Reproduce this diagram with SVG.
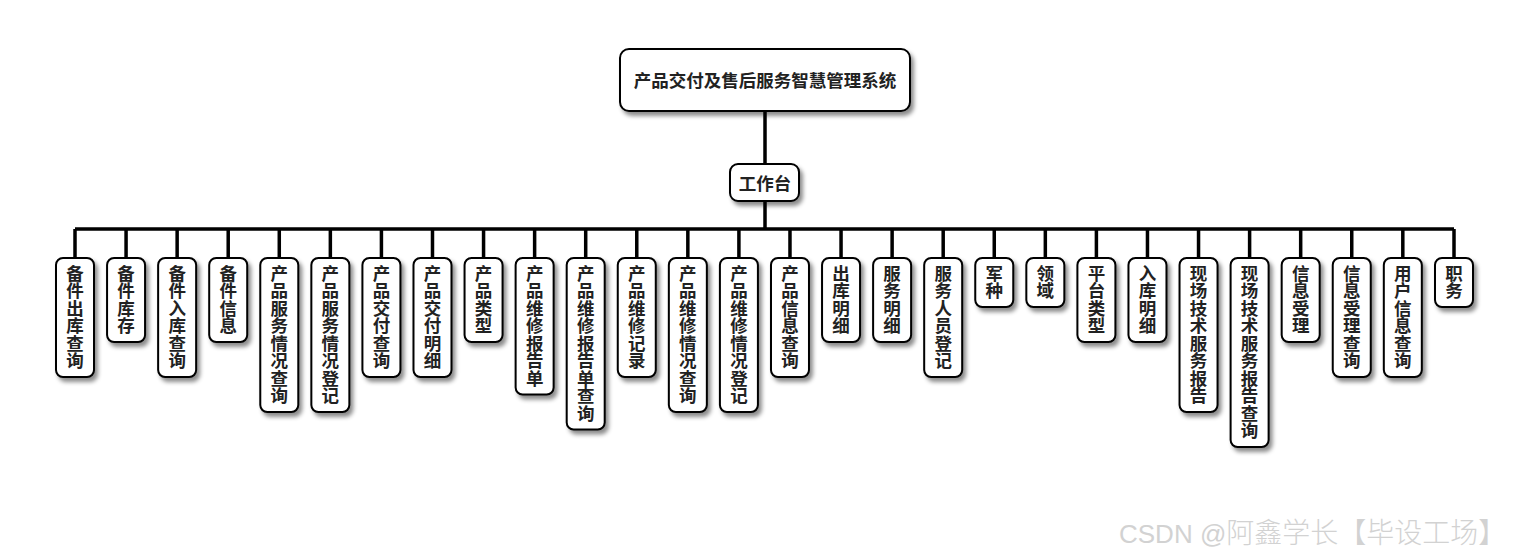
<svg xmlns="http://www.w3.org/2000/svg" width="1530" height="560" viewBox="0 0 1530 560">
<defs>
<filter id="sh" x="-30%" y="-30%" width="160%" height="160%">
<feDropShadow dx="3" dy="4" stdDeviation="2" flood-color="#000" flood-opacity="0.45"/>
</filter>
</defs>
<style>
.box{fill:#fff;stroke:#000;stroke-width:2;filter:url(#sh)}
.t{font-family:"Noto Sans CJK SC","Noto Sans",sans-serif;font-weight:bold;fill:#222;text-anchor:middle}
.lf{font-size:17.5px}
.ln{stroke:#000;stroke-width:3.5;fill:none}
.wm{font-family:"Liberation Sans","Noto Sans CJK SC",sans-serif;font-size:26px;fill:#d2d2d2}
</style>
<rect width="1530" height="560" fill="#fff"/>
<g id="connectors">
<path class="ln" d="M765 111V164M765 201V229M75 229H1454"/>
<path class="ln" d="M75 229V258M126.07 229V258M177.14 229V258M228.21 229V258M279.28 229V258M330.35 229V258M381.42 229V258M432.49 229V258M483.56 229V258M534.63 229V258M585.7 229V258M636.77 229V258M687.84 229V258M738.91 229V258M789.98 229V258M841.05 229V258M892.12 229V258M943.19 229V258M994.26 229V258M1045.33 229V258M1096.4 229V258M1147.47 229V258M1198.54 229V258M1249.61 229V258M1300.68 229V258M1351.75 229V258M1402.82 229V258M1454 229V258"/>
</g>
<g id="root">
<rect class="box" x="620" y="49" width="290" height="62" rx="9"/>
<text class="t" x="765" y="87" font-size="17.5">产品交付及售后服务智慧管理系统</text>
</g>
<g id="workbench">
<rect class="box" x="730" y="164" width="69" height="37" rx="8"/>
<text class="t" x="765" y="190" font-size="17.5">工作台</text>
</g>
<g id="n1"><rect class="box" x="56" y="258" width="38" height="119" rx="7"/><text class="t lf" y="262"><tspan x="75" dy="17.5">备</tspan><tspan x="75" dy="17.5">件</tspan><tspan x="75" dy="17.5">出</tspan><tspan x="75" dy="17.5">库</tspan><tspan x="75" dy="17.5">查</tspan><tspan x="75" dy="17.5">询</tspan></text></g>
<g id="n2"><rect class="box" x="107.07" y="258" width="38" height="84" rx="7"/><text class="t lf" y="262"><tspan x="126.07" dy="17.5">备</tspan><tspan x="126.07" dy="17.5">件</tspan><tspan x="126.07" dy="17.5">库</tspan><tspan x="126.07" dy="17.5">存</tspan></text></g>
<g id="n3"><rect class="box" x="158.14" y="258" width="38" height="119" rx="7"/><text class="t lf" y="262"><tspan x="177.14" dy="17.5">备</tspan><tspan x="177.14" dy="17.5">件</tspan><tspan x="177.14" dy="17.5">入</tspan><tspan x="177.14" dy="17.5">库</tspan><tspan x="177.14" dy="17.5">查</tspan><tspan x="177.14" dy="17.5">询</tspan></text></g>
<g id="n4"><rect class="box" x="209.21" y="258" width="38" height="84" rx="7"/><text class="t lf" y="262"><tspan x="228.21" dy="17.5">备</tspan><tspan x="228.21" dy="17.5">件</tspan><tspan x="228.21" dy="17.5">信</tspan><tspan x="228.21" dy="17.5">息</tspan></text></g>
<g id="n5"><rect class="box" x="260.28" y="258" width="38" height="154" rx="7"/><text class="t lf" y="262"><tspan x="279.28" dy="17.5">产</tspan><tspan x="279.28" dy="17.5">品</tspan><tspan x="279.28" dy="17.5">服</tspan><tspan x="279.28" dy="17.5">务</tspan><tspan x="279.28" dy="17.5">情</tspan><tspan x="279.28" dy="17.5">况</tspan><tspan x="279.28" dy="17.5">查</tspan><tspan x="279.28" dy="17.5">询</tspan></text></g>
<g id="n6"><rect class="box" x="311.35" y="258" width="38" height="154" rx="7"/><text class="t lf" y="262"><tspan x="330.35" dy="17.5">产</tspan><tspan x="330.35" dy="17.5">品</tspan><tspan x="330.35" dy="17.5">服</tspan><tspan x="330.35" dy="17.5">务</tspan><tspan x="330.35" dy="17.5">情</tspan><tspan x="330.35" dy="17.5">况</tspan><tspan x="330.35" dy="17.5">登</tspan><tspan x="330.35" dy="17.5">记</tspan></text></g>
<g id="n7"><rect class="box" x="362.42" y="258" width="38" height="119" rx="7"/><text class="t lf" y="262"><tspan x="381.42" dy="17.5">产</tspan><tspan x="381.42" dy="17.5">品</tspan><tspan x="381.42" dy="17.5">交</tspan><tspan x="381.42" dy="17.5">付</tspan><tspan x="381.42" dy="17.5">查</tspan><tspan x="381.42" dy="17.5">询</tspan></text></g>
<g id="n8"><rect class="box" x="413.49" y="258" width="38" height="119" rx="7"/><text class="t lf" y="262"><tspan x="432.49" dy="17.5">产</tspan><tspan x="432.49" dy="17.5">品</tspan><tspan x="432.49" dy="17.5">交</tspan><tspan x="432.49" dy="17.5">付</tspan><tspan x="432.49" dy="17.5">明</tspan><tspan x="432.49" dy="17.5">细</tspan></text></g>
<g id="n9"><rect class="box" x="464.56" y="258" width="38" height="84" rx="7"/><text class="t lf" y="262"><tspan x="483.56" dy="17.5">产</tspan><tspan x="483.56" dy="17.5">品</tspan><tspan x="483.56" dy="17.5">类</tspan><tspan x="483.56" dy="17.5">型</tspan></text></g>
<g id="n10"><rect class="box" x="515.63" y="258" width="38" height="136.5" rx="7"/><text class="t lf" y="262"><tspan x="534.63" dy="17.5">产</tspan><tspan x="534.63" dy="17.5">品</tspan><tspan x="534.63" dy="17.5">维</tspan><tspan x="534.63" dy="17.5">修</tspan><tspan x="534.63" dy="17.5">报</tspan><tspan x="534.63" dy="17.5">告</tspan><tspan x="534.63" dy="17.5">单</tspan></text></g>
<g id="n11"><rect class="box" x="566.7" y="258" width="38" height="171.5" rx="7"/><text class="t lf" y="262"><tspan x="585.7" dy="17.5">产</tspan><tspan x="585.7" dy="17.5">品</tspan><tspan x="585.7" dy="17.5">维</tspan><tspan x="585.7" dy="17.5">修</tspan><tspan x="585.7" dy="17.5">报</tspan><tspan x="585.7" dy="17.5">告</tspan><tspan x="585.7" dy="17.5">单</tspan><tspan x="585.7" dy="17.5">查</tspan><tspan x="585.7" dy="17.5">询</tspan></text></g>
<g id="n12"><rect class="box" x="617.77" y="258" width="38" height="119" rx="7"/><text class="t lf" y="262"><tspan x="636.77" dy="17.5">产</tspan><tspan x="636.77" dy="17.5">品</tspan><tspan x="636.77" dy="17.5">维</tspan><tspan x="636.77" dy="17.5">修</tspan><tspan x="636.77" dy="17.5">记</tspan><tspan x="636.77" dy="17.5">录</tspan></text></g>
<g id="n13"><rect class="box" x="668.84" y="258" width="38" height="154" rx="7"/><text class="t lf" y="262"><tspan x="687.84" dy="17.5">产</tspan><tspan x="687.84" dy="17.5">品</tspan><tspan x="687.84" dy="17.5">维</tspan><tspan x="687.84" dy="17.5">修</tspan><tspan x="687.84" dy="17.5">情</tspan><tspan x="687.84" dy="17.5">况</tspan><tspan x="687.84" dy="17.5">查</tspan><tspan x="687.84" dy="17.5">询</tspan></text></g>
<g id="n14"><rect class="box" x="719.91" y="258" width="38" height="154" rx="7"/><text class="t lf" y="262"><tspan x="738.91" dy="17.5">产</tspan><tspan x="738.91" dy="17.5">品</tspan><tspan x="738.91" dy="17.5">维</tspan><tspan x="738.91" dy="17.5">修</tspan><tspan x="738.91" dy="17.5">情</tspan><tspan x="738.91" dy="17.5">况</tspan><tspan x="738.91" dy="17.5">登</tspan><tspan x="738.91" dy="17.5">记</tspan></text></g>
<g id="n15"><rect class="box" x="770.98" y="258" width="38" height="119" rx="7"/><text class="t lf" y="262"><tspan x="789.98" dy="17.5">产</tspan><tspan x="789.98" dy="17.5">品</tspan><tspan x="789.98" dy="17.5">信</tspan><tspan x="789.98" dy="17.5">息</tspan><tspan x="789.98" dy="17.5">查</tspan><tspan x="789.98" dy="17.5">询</tspan></text></g>
<g id="n16"><rect class="box" x="822.05" y="258" width="38" height="84" rx="7"/><text class="t lf" y="262"><tspan x="841.05" dy="17.5">出</tspan><tspan x="841.05" dy="17.5">库</tspan><tspan x="841.05" dy="17.5">明</tspan><tspan x="841.05" dy="17.5">细</tspan></text></g>
<g id="n17"><rect class="box" x="873.12" y="258" width="38" height="84" rx="7"/><text class="t lf" y="262"><tspan x="892.12" dy="17.5">服</tspan><tspan x="892.12" dy="17.5">务</tspan><tspan x="892.12" dy="17.5">明</tspan><tspan x="892.12" dy="17.5">细</tspan></text></g>
<g id="n18"><rect class="box" x="924.19" y="258" width="38" height="119" rx="7"/><text class="t lf" y="262"><tspan x="943.19" dy="17.5">服</tspan><tspan x="943.19" dy="17.5">务</tspan><tspan x="943.19" dy="17.5">人</tspan><tspan x="943.19" dy="17.5">员</tspan><tspan x="943.19" dy="17.5">登</tspan><tspan x="943.19" dy="17.5">记</tspan></text></g>
<g id="n19"><rect class="box" x="975.26" y="258" width="38" height="49" rx="7"/><text class="t lf" y="262"><tspan x="994.26" dy="17.5">军</tspan><tspan x="994.26" dy="17.5">种</tspan></text></g>
<g id="n20"><rect class="box" x="1026.33" y="258" width="38" height="49" rx="7"/><text class="t lf" y="262"><tspan x="1045.33" dy="17.5">领</tspan><tspan x="1045.33" dy="17.5">域</tspan></text></g>
<g id="n21"><rect class="box" x="1077.4" y="258" width="38" height="84" rx="7"/><text class="t lf" y="262"><tspan x="1096.4" dy="17.5">平</tspan><tspan x="1096.4" dy="17.5">台</tspan><tspan x="1096.4" dy="17.5">类</tspan><tspan x="1096.4" dy="17.5">型</tspan></text></g>
<g id="n22"><rect class="box" x="1128.47" y="258" width="38" height="84" rx="7"/><text class="t lf" y="262"><tspan x="1147.47" dy="17.5">入</tspan><tspan x="1147.47" dy="17.5">库</tspan><tspan x="1147.47" dy="17.5">明</tspan><tspan x="1147.47" dy="17.5">细</tspan></text></g>
<g id="n23"><rect class="box" x="1179.54" y="258" width="38" height="154" rx="7"/><text class="t lf" y="262"><tspan x="1198.54" dy="17.5">现</tspan><tspan x="1198.54" dy="17.5">场</tspan><tspan x="1198.54" dy="17.5">技</tspan><tspan x="1198.54" dy="17.5">术</tspan><tspan x="1198.54" dy="17.5">服</tspan><tspan x="1198.54" dy="17.5">务</tspan><tspan x="1198.54" dy="17.5">报</tspan><tspan x="1198.54" dy="17.5">告</tspan></text></g>
<g id="n24"><rect class="box" x="1230.61" y="258" width="38" height="189" rx="7"/><text class="t lf" y="262"><tspan x="1249.61" dy="17.5">现</tspan><tspan x="1249.61" dy="17.5">场</tspan><tspan x="1249.61" dy="17.5">技</tspan><tspan x="1249.61" dy="17.5">术</tspan><tspan x="1249.61" dy="17.5">服</tspan><tspan x="1249.61" dy="17.5">务</tspan><tspan x="1249.61" dy="17.5">报</tspan><tspan x="1249.61" dy="17.5">告</tspan><tspan x="1249.61" dy="17.5">查</tspan><tspan x="1249.61" dy="17.5">询</tspan></text></g>
<g id="n25"><rect class="box" x="1281.68" y="258" width="38" height="84" rx="7"/><text class="t lf" y="262"><tspan x="1300.68" dy="17.5">信</tspan><tspan x="1300.68" dy="17.5">息</tspan><tspan x="1300.68" dy="17.5">受</tspan><tspan x="1300.68" dy="17.5">理</tspan></text></g>
<g id="n26"><rect class="box" x="1332.75" y="258" width="38" height="119" rx="7"/><text class="t lf" y="262"><tspan x="1351.75" dy="17.5">信</tspan><tspan x="1351.75" dy="17.5">息</tspan><tspan x="1351.75" dy="17.5">受</tspan><tspan x="1351.75" dy="17.5">理</tspan><tspan x="1351.75" dy="17.5">查</tspan><tspan x="1351.75" dy="17.5">询</tspan></text></g>
<g id="n27"><rect class="box" x="1383.82" y="258" width="38" height="119" rx="7"/><text class="t lf" y="262"><tspan x="1402.82" dy="17.5">用</tspan><tspan x="1402.82" dy="17.5">户</tspan><tspan x="1402.82" dy="17.5">信</tspan><tspan x="1402.82" dy="17.5">息</tspan><tspan x="1402.82" dy="17.5">查</tspan><tspan x="1402.82" dy="17.5">询</tspan></text></g>
<g id="n28"><rect class="box" x="1435" y="258" width="38" height="49" rx="7"/><text class="t lf" y="262"><tspan x="1454" dy="17.5">职</tspan><tspan x="1454" dy="17.5">务</tspan></text></g>
<text class="wm" x="1119" y="543">CSDN @<tspan font-family="Noto Sans CJK SC,sans-serif" font-size="28" font-weight="300">阿鑫学长【毕设工场】</tspan></text>
</svg>
